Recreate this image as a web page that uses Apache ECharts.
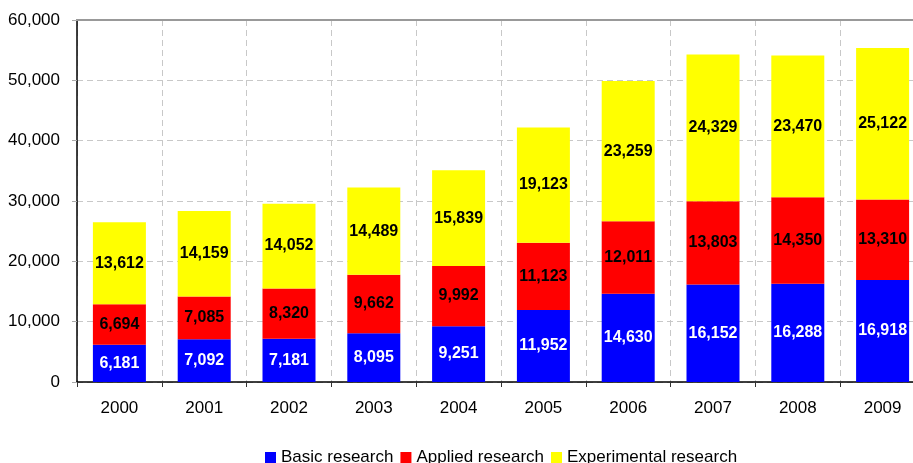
<!DOCTYPE html>
<html>
<head>
<meta charset="utf-8">
<script src="https://cdn.jsdelivr.net/npm/echarts@6/dist/echarts.min.js"></script>
<style>
  html, body { margin: 0; padding: 0; background: #fff; overflow: hidden; }
  #chart { width: 930px; height: 463px; }
</style>
</head>
<body>
<div id="chart"></div>
<script>
// R&D expenditure by type of research, 2000-2009
const years = ['2000', '2001', '2002', '2003', '2004', '2005', '2006', '2007', '2008', '2009'];
const basicResearch = [6181, 7092, 7181, 8095, 9251, 11952, 14630, 16152, 16288, 16918];
const appliedResearch = [6694, 7085, 8320, 9662, 9992, 11123, 12011, 13803, 14350, 13310];
const experimentalResearch = [13612, 14159, 14052, 14489, 15839, 19123, 23259, 24329, 23470, 25122];
const seriesNames = ['Basic research', 'Applied research', 'Experimental research'];
const yTicks = { min: 0, max: 60000, interval: 10000 };

const fontFamily = 'Arial, "Liberation Sans", sans-serif';
const fmt = v => v.toLocaleString('en-US');

function stackSeries(name, data, color, labelColor) {
  return {
    name: name,
    type: 'bar',
    stack: 'total',
    data: data,
    barWidth: 53,
    itemStyle: { color: color },
    label: {
      show: true,
      position: 'inside',
      color: labelColor,
      fontFamily: fontFamily,
      fontWeight: 'bold',
      fontSize: 16,
      formatter: p => fmt(p.value)
    },
    emphasis: { disabled: true }
  };
}

const chart = echarts.init(document.getElementById('chart'), null, { renderer: 'canvas' });
chart.setOption({
  animation: false,
  backgroundColor: '#ffffff',
  textStyle: { fontFamily: fontFamily },
  // the plot runs past the right edge of the visible page
  grid: { left: 77, top: 20, width: 848, height: 362, containLabel: false },
  legend: {
    data: seriesNames,
    left: 265,
    top: 449,
    padding: 0,
    icon: 'rect',
    itemWidth: 11,
    itemHeight: 11,
    itemGap: 7,
    textStyle: { fontSize: 17, color: '#000', fontFamily: fontFamily, padding: [0, 0, 0, 0] },
    selectedMode: false
  },
  xAxis: [
    {
      type: 'category',
      data: years,
      boundaryGap: true,
      axisLine: { lineStyle: { color: '#000', width: 1.5 } },
      axisTick: { show: true, length: 5, lineStyle: { color: '#333' } },
      axisLabel: { color: '#000', fontSize: 17, margin: 18, fontFamily: fontFamily },
      splitLine: { show: true, lineStyle: { color: '#c8c8c8', type: [6, 4], width: 1 } }
    },
    {
      type: 'category',
      data: years,
      position: 'top',
      axisLine: { show: true, lineStyle: { color: '#999', width: 2 } },
      axisTick: { show: false },
      axisLabel: { show: false },
      splitLine: { show: false }
    }
  ],
  yAxis: {
    type: 'value',
    min: yTicks.min,
    max: yTicks.max,
    interval: yTicks.interval,
    axisLine: { show: true, lineStyle: { color: '#000', width: 1.5 } },
    axisTick: { show: true, length: 5, lineStyle: { color: '#aaa' } },
    axisLabel: { color: '#000', fontSize: 17, margin: 17, fontFamily: fontFamily, formatter: v => fmt(v) },
    splitLine: { show: true, lineStyle: { color: '#c8c8c8', type: [6, 4], width: 1 } }
  },
  series: [
    stackSeries(seriesNames[0], basicResearch, '#0000ff', '#ffffff'),
    stackSeries(seriesNames[1], appliedResearch, '#ff0000', '#000000'),
    stackSeries(seriesNames[2], experimentalResearch, '#ffff00', '#000000')
  ]
});
</script>
</body>
</html>
